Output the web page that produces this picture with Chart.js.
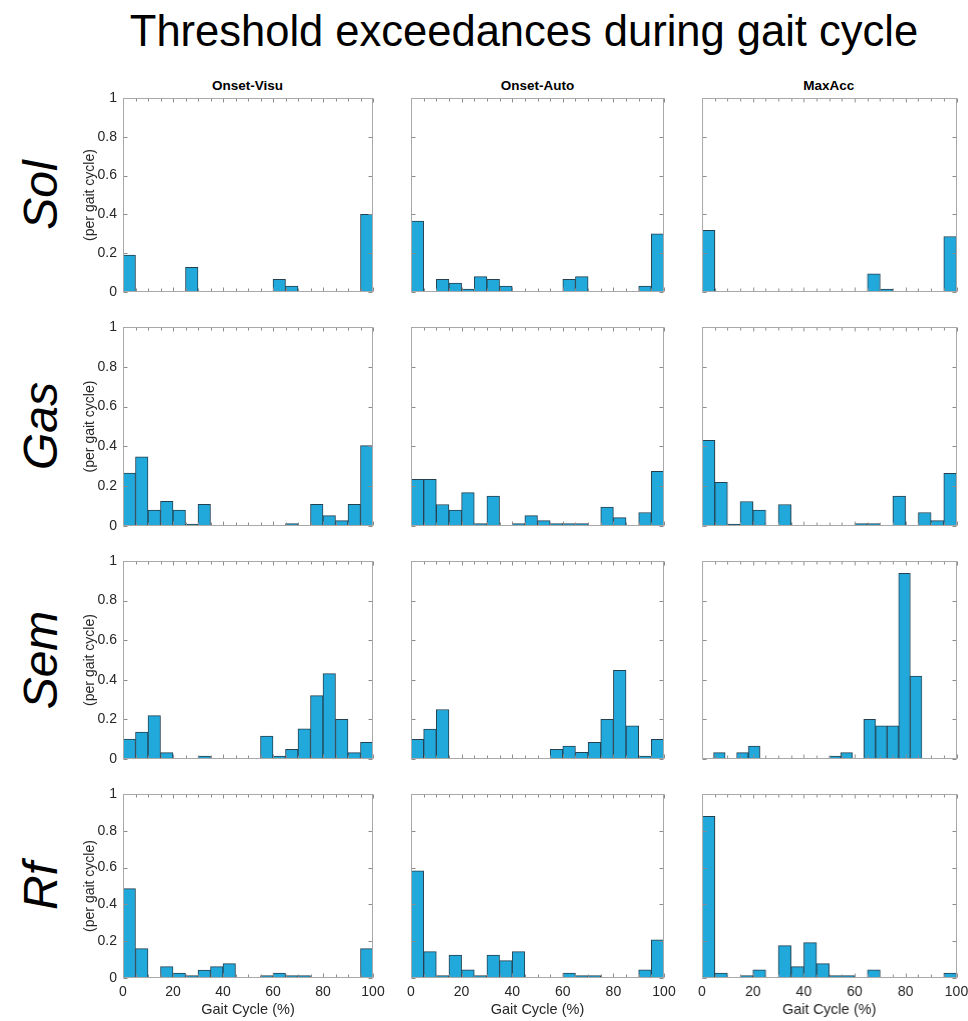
<!DOCTYPE html>
<html>
<head>
<meta charset="utf-8">
<script src="https://cdn.jsdelivr.net/npm/chart.js@4"></script>
<style>
  body { margin: 0; background: #fff; }
  #fig { position: relative; width: 968px; height: 1021px; font-family: 'Liberation Sans', Arial, sans-serif; color: #000; overflow: hidden; }
  .title { position: absolute; left: 74px; width: 900px; top: 10px; line-height: 43.5px; font-size: 43.5px; text-align: center; }
  .col-title { position: absolute; top: 79px; width: 250px; line-height: 14px; font-size: 13.5px; font-weight: bold; text-align: center; }
  .row-label { position: absolute; width: 200px; height: 60px; line-height: 60px; font-size: 48px; font-style: italic; text-align: center; transform: rotate(-90deg); }
  .cell { position: absolute; }
</style>
</head>
<body>
<div id="fig">
  <div class="title">Threshold exceedances during gait cycle</div>
</div>
<script>
// Categorias
const muscles = ['Sol', 'Gas', 'Sem', 'Rf'];
const methods = ['Onset-Visu', 'Onset-Auto', 'MaxAcc'];
const xTicks = [0, 20, 40, 60, 80, 100];
const yTicks = [0, 0.2, 0.4, 0.6, 0.8, 1];

// Valores por bin (por ciclo de marcha)
const solVisu   = [0.19, 0, 0, 0, 0, 0.127, 0, 0, 0, 0, 0, 0, 0.065, 0.031, 0, 0, 0, 0, 0, 0.40];
const solAuto   = [0.366, 0, 0.065, 0.046, 0.015, 0.079, 0.065, 0.031, 0, 0, 0, 0, 0.065, 0.079, 0, 0, 0, 0, 0.031, 0.30];
const solMaxAcc = [0.318, 0, 0, 0, 0, 0, 0, 0, 0, 0, 0, 0, 0, 0.094, 0.015, 0, 0, 0, 0, 0.286];

const gasVisu   = [0.266, 0.348, 0.080, 0.124, 0.080, 0.010, 0.109, 0, 0, 0, 0, 0, 0, 0.012, 0, 0.109, 0.052, 0.027, 0.109, 0.404];
const gasAuto   = [0.235, 0.235, 0.108, 0.080, 0.168, 0.012, 0.150, 0, 0.012, 0.052, 0.027, 0.012, 0.012, 0.012, 0, 0.095, 0.042, 0, 0.068, 0.275];
const gasMaxAcc = [0.430, 0.220, 0.010, 0.123, 0.080, 0, 0.108, 0, 0, 0, 0, 0, 0.012, 0.012, 0, 0.150, 0, 0.068, 0.027, 0.265];

const semVisu   = [0.100, 0.136, 0.219, 0.032, 0, 0, 0.015, 0, 0, 0, 0, 0.116, 0.015, 0.049, 0.152, 0.320, 0.431, 0.200, 0.032, 0.084];
const semAuto   = [0.099, 0.151, 0.250, 0, 0, 0, 0, 0, 0, 0, 0, 0.049, 0.065, 0.034, 0.084, 0.200, 0.448, 0.168, 0.015, 0.099];
const semMaxAcc = [0, 0.032, 0, 0.032, 0.065, 0, 0, 0, 0, 0, 0, 0.015, 0.032, 0, 0.200, 0.168, 0.168, 0.938, 0.419, 0, 0, 0]; // 22 bins

const rfVisu   = [0.486, 0.160, 0, 0.062, 0.027, 0.013, 0.043, 0.062, 0.078, 0, 0, 0.013, 0.027, 0.013, 0.013, 0, 0, 0, 0, 0.160];
const rfAuto   = [0.582, 0.143, 0.013, 0.125, 0.045, 0.013, 0.125, 0.094, 0.143, 0, 0, 0, 0.027, 0.013, 0.013, 0, 0, 0, 0.045, 0.208];
const rfMaxAcc = [0.879, 0.027, 0, 0.013, 0.045, 0, 0.176, 0.062, 0.192, 0.078, 0.013, 0.013, 0, 0.045, 0, 0, 0, 0, 0, 0.027];

const grid = [
  [solVisu, solAuto, solMaxAcc],
  [gasVisu, gasAuto, gasMaxAcc],
  [semVisu, semAuto, semMaxAcc],
  [rfVisu, rfAuto, rfMaxAcc]
];

// Posicion de cada area de graficos (px)
const plotLeft = [122.5, 411, 702];
const plotWidth = [250, 253, 253.5];
const plotTop = [98, 326.5, 561, 794];
const plotHeight = [194, 199, 198, 184];

Chart.defaults.font.family = "'Liberation Sans', Arial, sans-serif";
Chart.defaults.color = '#262626';

// Caja y marcas de ejes hacia adentro (estilo MATLAB)
const boxPlugin = {
  id: 'box',
  afterDraw(chart) {
    const { ctx, chartArea: a, scales: { x, y } } = chart;
    const l = Math.round(a.left) + 0.5, r = Math.round(a.right) - 0.5;
    const t = Math.round(a.top) + 0.5, b = Math.round(a.bottom) - 0.5;
    ctx.save();
    ctx.lineWidth = 1;
    ctx.strokeStyle = '#8c8c8c';
    ctx.beginPath();
    for (let v = 0; v <= 100; v += 5) {
      const px = Math.round(x.getPixelForValue(v)) + 0.5;
      const len = v % 20 === 0 ? 4 : 3;
      ctx.moveTo(px, b); ctx.lineTo(px, b - len);
      ctx.moveTo(px, t); ctx.lineTo(px, t + len);
    }
    yTicks.forEach(v => {
      const py = Math.round(y.getPixelForValue(v)) + 0.5;
      ctx.moveTo(l, py); ctx.lineTo(l + 4, py);
      ctx.moveTo(r, py); ctx.lineTo(r - 4, py);
    });
    ctx.stroke();
    ctx.strokeStyle = '#a8a8a8';
    ctx.strokeRect(l, t, r - l, b - t);
    ctx.restore();
  }
};

const fig = document.getElementById('fig');

// Titulos de columna
methods.forEach((m, c) => {
  const d = document.createElement('div');
  d.className = 'col-title';
  d.style.left = (plotLeft[c] + plotWidth[c] / 2 - 125) + 'px';
  d.textContent = m;
  fig.appendChild(d);
});

// Etiquetas de fila
muscles.forEach((m, r) => {
  const d = document.createElement('div');
  d.className = 'row-label';
  d.style.left = (41 - 100) + 'px';
  d.style.top = (plotTop[r] + plotHeight[r] / 2 - 30) + 'px';
  d.textContent = m;
  fig.appendChild(d);
});

function makeChart(r, c) {
  const values = grid[r][c];
  const n = values.length;
  const L = c === 0 ? 41 : 8, R = 14, T = 10, B = r === 3 ? 43 : 4;
  const div = document.createElement('div');
  div.className = 'cell';
  div.style.left = (plotLeft[c] - L) + 'px';
  div.style.top = (plotTop[r] - T) + 'px';
  div.style.width = (plotWidth[c] + L + R) + 'px';
  div.style.height = (plotHeight[r] + T + B) + 'px';
  const canvas = document.createElement('canvas');
  div.appendChild(canvas);
  fig.appendChild(div);

  new Chart(canvas, {
    type: 'bar',
    data: {
      datasets: [{
        data: values.map((v, i) => ({ x: (i + 0.5) * 100 / n, y: v })),
        backgroundColor: '#22a9dc',
        borderColor: '#25414f',
        borderWidth: 1,
        barPercentage: 1,
        categoryPercentage: 1
      }]
    },
    options: {
      responsive: true,
      maintainAspectRatio: false,
      animation: false,
      layout: { padding: { top: T, right: R, left: 0, bottom: 0 } },
      plugins: { legend: { display: false }, tooltip: { enabled: false } },
      scales: {
        x: {
          type: 'linear',
          min: 0, max: 100,
          offset: false,
          grid: { display: false, drawTicks: false, offset: false },
          border: { display: false },
          afterBuildTicks: a => { a.ticks = xTicks.map(v => ({ value: v })); },
          ticks: { display: r === 3, padding: 6, maxRotation: 0, font: { size: 14 }, color: '#262626' },
          title: { display: r === 3, text: 'Gait Cycle (%)', font: { size: 14.5 }, color: '#262626', padding: { top: 0, bottom: 2 } },
          afterFit: a => { a.height = B; a.paddingLeft = 0; a.paddingRight = 0; }
        },
        y: {
          min: 0, max: 1,
          grid: { display: false, drawTicks: false },
          border: { display: false },
          afterBuildTicks: a => { a.ticks = yTicks.map(v => ({ value: v })); },
          ticks: { display: c === 0, padding: 6, font: { size: 14 }, color: '#262626', callback: v => String(Math.round(v * 10) / 10) },
          title: { display: c === 0, text: '(per gait cycle)', font: { size: 14 }, color: '#262626', padding: { top: 0, bottom: 0 } },
          afterFit: a => { a.width = L; a.paddingTop = 0; a.paddingBottom = 0; }
        }
      }
    },
    plugins: [boxPlugin]
  });
}

for (let r = 0; r < muscles.length; r++) {
  for (let c = 0; c < methods.length; c++) makeChart(r, c);
}
</script>
</body>
</html>
